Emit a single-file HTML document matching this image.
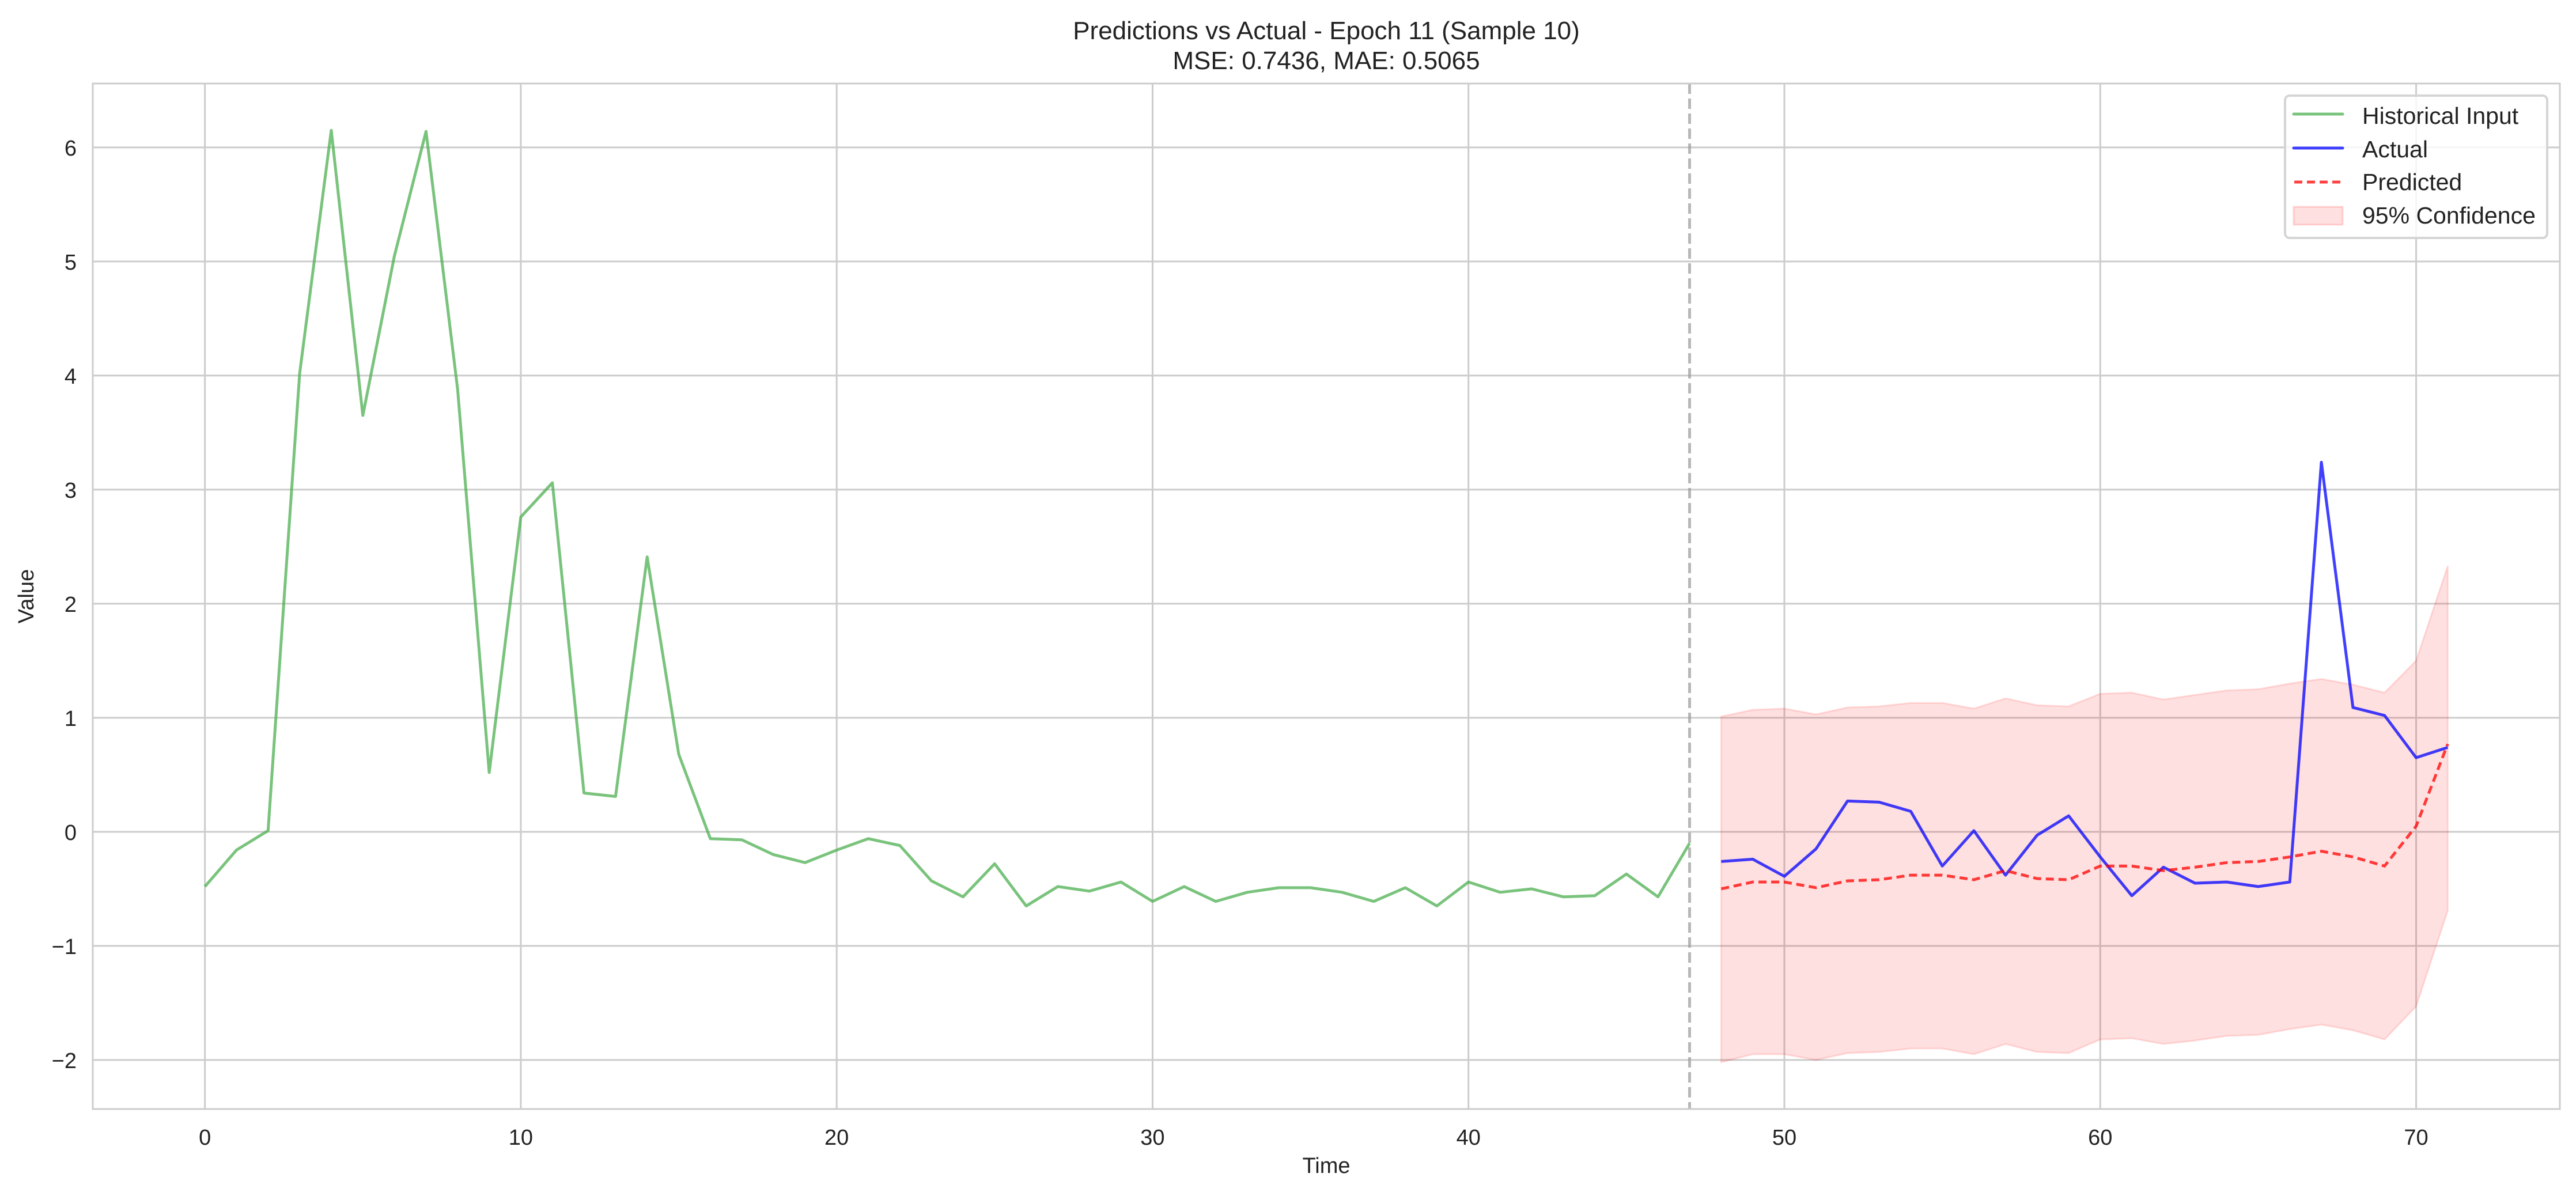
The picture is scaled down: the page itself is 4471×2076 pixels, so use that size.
<!DOCTYPE html>
<html><head><meta charset="utf-8"><style>
html,body{margin:0;padding:0;background:#fff;}
svg{display:block;font-family:"Liberation Sans",Arial,sans-serif;}
</style></head><body>
<svg id="chart" width="4471" height="2076" viewBox="0 0 4471 2076">
<text x="2302" y="68" font-size="44" text-anchor="middle" fill="#222">Predictions vs Actual - Epoch 11 (Sample 10)</text>
<text x="2302" y="120" font-size="44" text-anchor="middle" fill="#222">MSE: 0.7436, MAE: 0.5065</text>
<g id="grid"></g>
<g id="marks"></g>
<rect x="161" y="145" width="4282" height="1780" fill="none" stroke="#cccccc" stroke-width="3"/>
<g id="ticks"></g>
<text x="2302" y="2036" font-size="38" text-anchor="middle" fill="#222">Time</text>
<text x="58" y="1035" font-size="38" text-anchor="middle" fill="#222" transform="rotate(-90 58 1035)">Value</text>
<g>
<rect x="3966" y="166" width="455" height="247" rx="8" fill="#fff" fill-opacity="0.8" stroke="#d5d5d5" stroke-width="4"/>
<line x1="3981" y1="198" x2="4066" y2="198" stroke="#4caf50" stroke-opacity="0.75" stroke-width="5" stroke-linecap="round"/>
<text x="4100" y="215" font-size="41" fill="#222">Historical Input</text>
<line x1="3981" y1="257" x2="4066" y2="257" stroke="#0000ff" stroke-opacity="0.75" stroke-width="5" stroke-linecap="round"/>
<text x="4100" y="273" font-size="41" fill="#222">Actual</text>
<line x1="3982" y1="316" x2="4066" y2="316" stroke="#ff0000" stroke-opacity="0.75" stroke-width="5" stroke-dasharray="14,8"/>
<text x="4100" y="330" font-size="41" fill="#222">Predicted</text>
<rect x="3981" y="359" width="85" height="31" fill="#ff0000" fill-opacity="0.12" stroke="#ff0000" stroke-opacity="0.15" stroke-width="3"/>
<text x="4100" y="388" font-size="41" fill="#222">95% Confidence</text>
</g>
</svg>
<script>
const historical = [-0.48,-0.16,0.01,4.02,6.15,3.65,5.05,6.14,3.88,0.52,2.76,3.06,0.34,0.31,2.41,0.68,-0.06,-0.07,-0.2,-0.27,-0.16,-0.06,-0.12,-0.43,-0.57,-0.28,-0.65,-0.48,-0.52,-0.44,-0.61,-0.48,-0.61,-0.53,-0.49,-0.49,-0.53,-0.61,-0.49,-0.65,-0.44,-0.53,-0.5,-0.57,-0.56,-0.37,-0.57,-0.1];
const actual = [-0.26,-0.24,-0.39,-0.15,0.27,0.26,0.18,-0.3,0.01,-0.38,-0.03,0.14,-0.22,-0.56,-0.31,-0.45,-0.44,-0.48,-0.44,3.24,1.09,1.02,0.65,0.74];
const predicted = [-0.5,-0.44,-0.44,-0.49,-0.43,-0.42,-0.38,-0.38,-0.42,-0.34,-0.41,-0.42,-0.3,-0.3,-0.34,-0.31,-0.27,-0.26,-0.22,-0.17,-0.22,-0.3,0.05,0.77];
const upper = [1.01,1.07,1.08,1.03,1.09,1.1,1.13,1.13,1.08,1.17,1.11,1.1,1.21,1.22,1.16,1.2,1.24,1.25,1.3,1.34,1.29,1.22,1.5,2.33];
const lower = [-2.02,-1.95,-1.95,-2.0,-1.94,-1.93,-1.9,-1.9,-1.95,-1.86,-1.93,-1.94,-1.82,-1.81,-1.86,-1.83,-1.79,-1.78,-1.73,-1.69,-1.74,-1.82,-1.53,-0.69];
const xTicks = [0,10,20,30,40,50,60,70];
const yTicks = [-2,-1,0,1,2,3,4,5,6];
const yTickLabels = ["\u22122","\u22121","0","1","2","3","4","5","6"];
const forecastStart = 48;
const splitX = 47;

const NS="http://www.w3.org/2000/svg";
const L=161,R=4443,T=145,B=1925;
const xMin=-3.55,xMax=74.55,yMin=-2.43,yMax=6.56;
function sx(v){return L+(v-xMin)/(xMax-xMin)*(R-L);}
function sy(v){return B-(v-yMin)/(yMax-yMin)*(B-T);}
function mk(tag,attrs,parent){const e=document.createElementNS(NS,tag);for(const k in attrs)e.setAttribute(k,attrs[k]);parent.appendChild(e);return e;}
const grid=document.getElementById('grid'),marks=document.getElementById('marks'),ticks=document.getElementById('ticks');
xTicks.forEach(t=>{
  const g=mk('line',{x1:sx(t),x2:sx(t),y1:T,y2:B,stroke:'#cccccc','stroke-width':3},grid);
  
  
  const tx=mk('text',{x:sx(t),y:B+62,'font-size':38,'text-anchor':'middle',fill:'#222'},ticks);
  tx.textContent=String(t);
  
  
});
yTicks.forEach((t,i)=>{
  const g=mk('line',{x1:L,x2:R,y1:sy(t),y2:sy(t),stroke:'#cccccc','stroke-width':3},grid);
  
  
  const tx=mk('text',{x:L-28,y:sy(t)+14,'font-size':38,'text-anchor':'end',fill:'#222'},ticks);
  tx.textContent=yTickLabels[i];
  
  
});
let d='';
upper.forEach((v,i)=>{d+=(i?'L':'M')+sx(forecastStart+i)+','+sy(v);});
for(let i=lower.length-1;i>=0;i--){d+='L'+sx(forecastStart+i)+','+sy(lower[i]);}
d+='Z';
const band=mk('path',{d:d,fill:'#ff0000','fill-opacity':0.12,stroke:'#ff0000','stroke-opacity':0.12,'stroke-width':3},marks);


const vl=mk('line',{x1:sx(splitX),x2:sx(splitX),y1:T,y2:B,stroke:'#999','stroke-opacity':0.7,'stroke-width':5,'stroke-dasharray':'18,8'},marks);


function pts(arr,off){return arr.map((v,i)=>sx(off+i)+','+sy(v)).join(' ');}
const h=mk('polyline',{points:pts(historical,0),fill:'none',stroke:'#4caf50','stroke-opacity':0.75,'stroke-width':5,'stroke-linejoin':'round'},marks);


const a=mk('polyline',{points:pts(actual,forecastStart),fill:'none',stroke:'#0000ff','stroke-opacity':0.75,'stroke-width':5,'stroke-linejoin':'round'},marks);


const p=mk('polyline',{points:pts(predicted,forecastStart),fill:'none',stroke:'#ff0000','stroke-opacity':0.75,'stroke-width':5,'stroke-dasharray':'14,8'},marks);


</script>
</body></html>
